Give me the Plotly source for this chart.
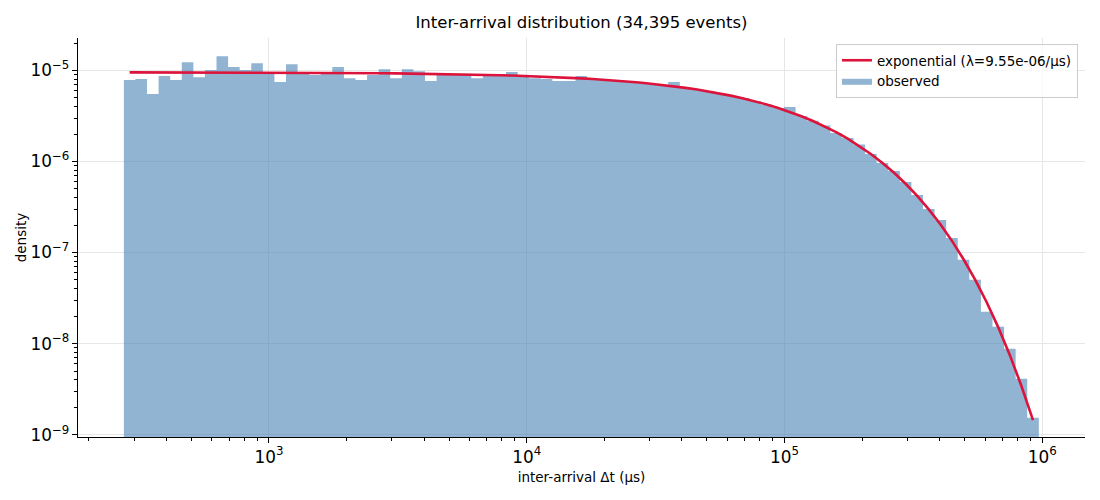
import numpy as np
import plotly.graph_objects as go

# histogram of inter-arrival times (log-spaced bins), density per µs
T_MIN = 273.5      # µs, first bin edge
T_MAX = 970000.0   # µs, last bin edge
N_BINS = 79
N_EVENTS = 34395
LAMBDA = 9.55e-6   # fitted exponential rate, 1/µs

density = [
    7.83e-6, 8.03e-6, 5.50e-6, 8.66e-6, 7.83e-6, 1.233e-5, 8.44e-6, 1.008e-5,
    1.435e-5, 1.087e-5, 1.008e-5, 1.202e-5, 9.58e-6, 7.44e-6, 1.172e-5, 9.34e-6,
    8.88e-6, 9.58e-6, 1.087e-5, 8.23e-6, 7.83e-6, 8.88e-6, 1.033e-5, 8.23e-6,
    1.033e-5, 9.82e-6, 7.63e-6, 9.11e-6, 8.88e-6, 9.11e-6, 8.23e-6, 8.88e-6,
    9.11e-6, 9.58e-6, 8.88e-6, 8.23e-6, 8.03e-6, 7.63e-6, 7.63e-6, 8.66e-6,
    8.03e-6, 7.83e-6, 7.73e-6, 7.54e-6, 7.35e-6, 7.17e-6, 6.90e-6, 7.44e-6,
    6.48e-6, 6.16e-6, 5.93e-6, 5.57e-6, 5.23e-6, 4.97e-6, 4.61e-6, 4.22e-6,
    3.86e-6, 3.96e-6, 3.15e-6, 2.80e-6, 2.48e-6, 2.05e-6, 1.81e-6, 1.54e-6,
    1.21e-6, 9.63e-7, 7.87e-7, 5.96e-7, 4.29e-7, 3.01e-7, 2.28e-7, 1.45e-7,
    8.32e-8, 5.02e-8, 2.24e-8, 1.53e-8, 8.79e-9, 4.12e-9, 1.54e-9,
]

edges = np.logspace(np.log10(T_MIN), np.log10(T_MAX), N_BINS + 1)
centers = np.sqrt(edges[:-1] * edges[1:])
fit = LAMBDA * np.exp(-LAMBDA * centers)

fig = go.Figure()

# histogram drawn as a filled step outline
fig.add_trace(go.Scatter(
    x=edges, y=density + [density[-1]],
    mode="lines", line=dict(shape="hv", width=0, color="rgba(70,130,180,0.6)"),
    fill="tozeroy", fillcolor="rgba(70,130,180,0.6)",
    name="observed", legendrank=2, hoverinfo="skip",
))
fig.add_trace(go.Scatter(
    x=centers, y=fit, mode="lines",
    line=dict(color="#DC143C", width=2.6),
    name="exponential (λ=%.2e/μs)" % LAMBDA, legendrank=1,
))

axis_common = dict(
    type="log", showline=True, linecolor="black", linewidth=1,
    ticks="outside", ticklen=5, tickwidth=1, tickcolor="black",
    dtick=1, exponentformat="power", showexponent="all",
    showgrid=True, gridcolor="#e6e6e6", gridwidth=1, zeroline=False,
    minor=dict(ticks="outside", ticklen=3, tickcolor="black", dtick="D1", showgrid=False),
    tickfont=dict(size=13.5, color="black"), automargin=False,
)

fig.update_layout(
    width=1100, height=500,
    font=dict(family="DejaVu Sans", size=13, color="black"),
    paper_bgcolor="white", plot_bgcolor="white",
    margin=dict(l=78, r=15, t=38, b=63),
    title=dict(text="Inter-arrival distribution (%s events)" % format(N_EVENTS, ","),
               x=0.5286, xanchor="center", y=0.955, yanchor="middle",
               font=dict(size=16.5)),
    xaxis=dict(axis_common, range=[2.259, 6.166],
               title=dict(text="inter-arrival Δt (μs)", font=dict(size=13.5), standoff=6)),
    yaxis=dict(axis_common, range=[-9.025, -4.644],
               title=dict(text="density", font=dict(size=13.5), standoff=0)),
    legend=dict(x=0.993, y=0.985, xanchor="right", yanchor="top",
                bgcolor="rgba(255,255,255,0.8)", bordercolor="#cccccc", borderwidth=1,
                font=dict(size=13.5), tracegroupgap=2),
    showlegend=True,
)

# drop the browser's default page margin so the figure sits at the window corner
fig.write_html("out.html", config={"displayModeBar": False},
               post_script="document.body.style.margin='0';")
